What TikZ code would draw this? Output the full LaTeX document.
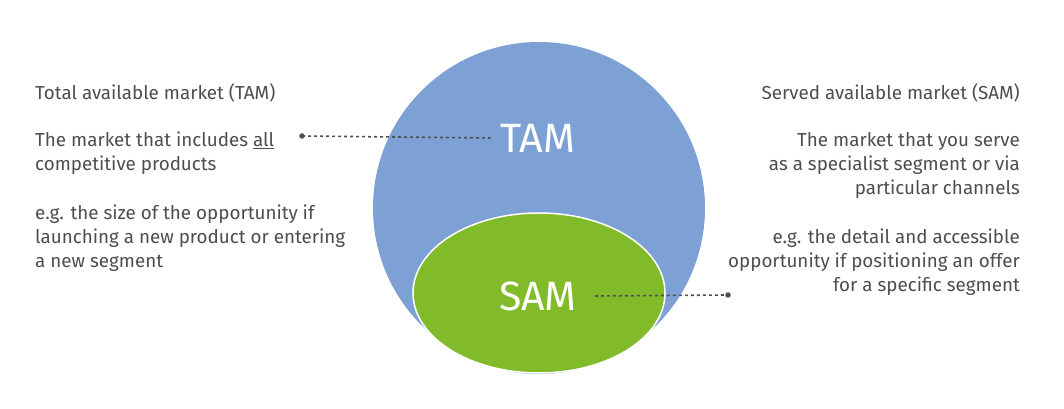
\documentclass[tikz,border=0pt]{standalone}
\usepackage{fontspec}
\setmainfont{Fira Sans}
\definecolor{tamblue}{HTML}{7DA1D5}
\definecolor{samgreen}{HTML}{82BB2A}
\definecolor{txtgrey}{HTML}{4D4D4D}
\definecolor{lnkgrey}{HTML}{505050}
\begin{document}
\begin{tikzpicture}[x=1pt,y=1pt,
  body/.style={text=txtgrey,font=\fontsize{18.8}{24}\selectfont,inner sep=0pt},
  big/.style={text=white,font=\fontsize{41}{44}\selectfont,inner sep=6pt},
  link/.style={lnkgrey,line width=1.6pt,dash pattern=on 3pt off 3pt},
  dotmark/.style={circle,fill=lnkgrey,inner sep=0pt,minimum size=5.5pt}]
\useasboundingbox (0,0) rectangle (1064,409);
\fill[tamblue] (539,201) circle (166);
\draw[white,line width=1.5pt,fill=samgreen] (539,116) ellipse (126 and 80);
\node[big] (tam) at (538,271) {TAM};
\node[big] (sam) at (538,113) {SAM};
% left texts
\node[body,anchor=west] (lt) at (35,316) {Total available market (TAM)};
\node[body,anchor=north west,align=left] (l1) at (35,277) {The market that includes \underline{all}\\competitive products};
\node[body,anchor=north west,align=left] (l2) at (35,204) {e.g. the size of the opportunity if\\launching a new product or entering\\a new segment};
% right texts
\node[body,anchor=east] (rt) at (1020,316) {Served available market (SAM)};
\node[body,anchor=north east,align=right] (r1) at (1020,277) {The market that you serve\\as a specialist segment or via\\particular channels};
\node[body,anchor=north east,align=right] (r2) at (1020,180) {e.g. the detail and accessible\\opportunity if positioning an offer\\for a specific segment};
\node[dotmark] (d1) at (302,273) {};
\node[dotmark] (d2) at (728,114) {};
\draw[link] (d1.center) -- ([xshift=-4pt]tam.west);
\draw[link] ([xshift=12pt]sam.east) -- (d2.center);
\end{tikzpicture}
\end{document}
